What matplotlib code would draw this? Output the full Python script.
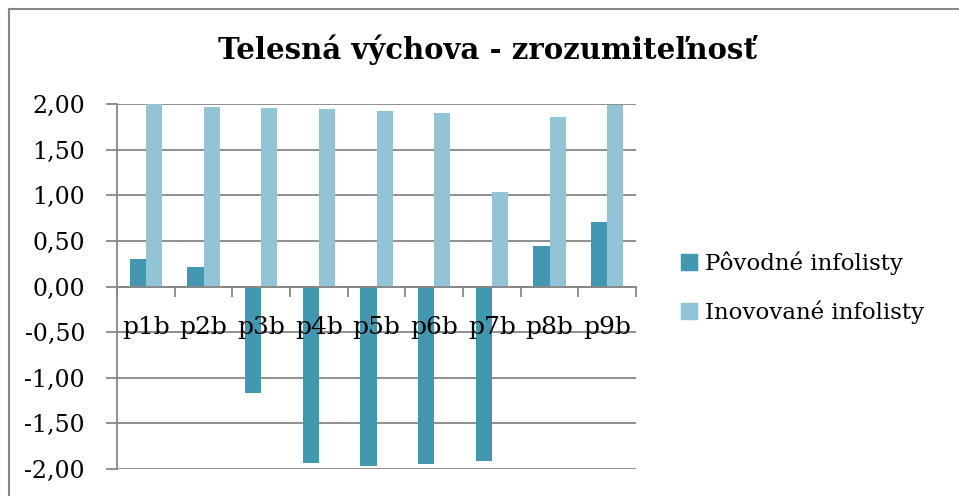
import matplotlib.pyplot as plt
import numpy as np
from matplotlib.lines import Line2D
from matplotlib.patches import Patch
from matplotlib.ticker import FixedLocator, FuncFormatter
from matplotlib.transforms import blended_transform_factory

plt.rcParams['font.family'] = ['DejaVu Serif']

categories = ['p1b', 'p2b', 'p3b', 'p4b', 'p5b', 'p6b', 'p7b', 'p8b', 'p9b']
povodne = [0.30, 0.21, -1.17, -1.93, -1.97, -1.94, -1.91, 0.44, 0.71]
inovovane = [2.00, 1.97, 1.96, 1.94, 1.92, 1.90, 1.04, 1.86, 1.99]
series_names = ['Pôvodné infolisty', 'Inovované infolisty']

dark = '#4298b0'
light = '#93c4d5'
grid = '#878787'

fig = plt.figure(figsize=(9.59, 4.96), dpi=100)
ax = fig.add_axes([117 / 959, 1 - 469 / 496, (636 - 117) / 959, (469 - 104) / 496])

x = np.arange(len(categories))
w = 0.28
ax.bar(x - w / 2, povodne, w, color=dark, zorder=3)
ax.bar(x + w / 2, inovovane, w, color=light, zorder=3)

ax.set_xlim(-0.5, len(categories) - 0.5)
ax.set_ylim(-2, 2)
ax.set_yticks(np.arange(-2, 2.01, 0.5))
ax.yaxis.set_major_formatter(FuncFormatter(lambda v, p: f'{v:.2f}'.replace('.', ',')))
ax.grid(axis='y', color=grid, linewidth=1.3, zorder=0)
ax.tick_params(axis='y', length=8, width=1.3, color=grid, labelsize=17, pad=15)

# category axis sits at zero, ticks between groups
ax.spines['bottom'].set_position(('data', 0))
ax.spines['bottom'].set_color(grid)
ax.spines['bottom'].set_linewidth(1.3)
ax.spines['bottom'].set_zorder(4)
ax.spines['left'].set_color(grid)
ax.spines['left'].set_linewidth(1.3)
ax.spines['top'].set_visible(False)
ax.spines['right'].set_visible(False)
ax.xaxis.set_major_locator(FixedLocator(np.arange(-0.5, len(categories), 1.0)))
ax.xaxis.set_major_formatter(FuncFormatter(lambda v, p: ''))
ax.tick_params(axis='x', length=7, width=1.3, color=grid)

# category names drawn over the bars, just under the zero line
trans = blended_transform_factory(ax.transData, ax.transAxes)
for xi, name in zip(x, categories):
    ax.text(xi, 0.389, name, transform=trans, ha='center', va='center',
            fontsize=18, zorder=6)

fig.suptitle('Telesná výchova - zrozumiteľnosť', x=0.508, y=0.93,
             fontsize=21, fontweight='bold')

handles = [Patch(color=dark), Patch(color=light)]
fig.legend(handles, series_names, loc='center left',
           bbox_to_anchor=(660 / 959, 1 - 288 / 496), frameon=False,
           fontsize=16.5, handlelength=0.7, handleheight=0.7,
           handletextpad=0.35, labelspacing=1.1)

# chart area border
fig.add_artist(Line2D([9 / 959, 9 / 959], [0, 1 - 9 / 496], color=grid, linewidth=1.5))
fig.add_artist(Line2D([9 / 959, 1], [1 - 9 / 496, 1 - 9 / 496], color=grid, linewidth=1.5))

fig.savefig('out.png', dpi=100)
